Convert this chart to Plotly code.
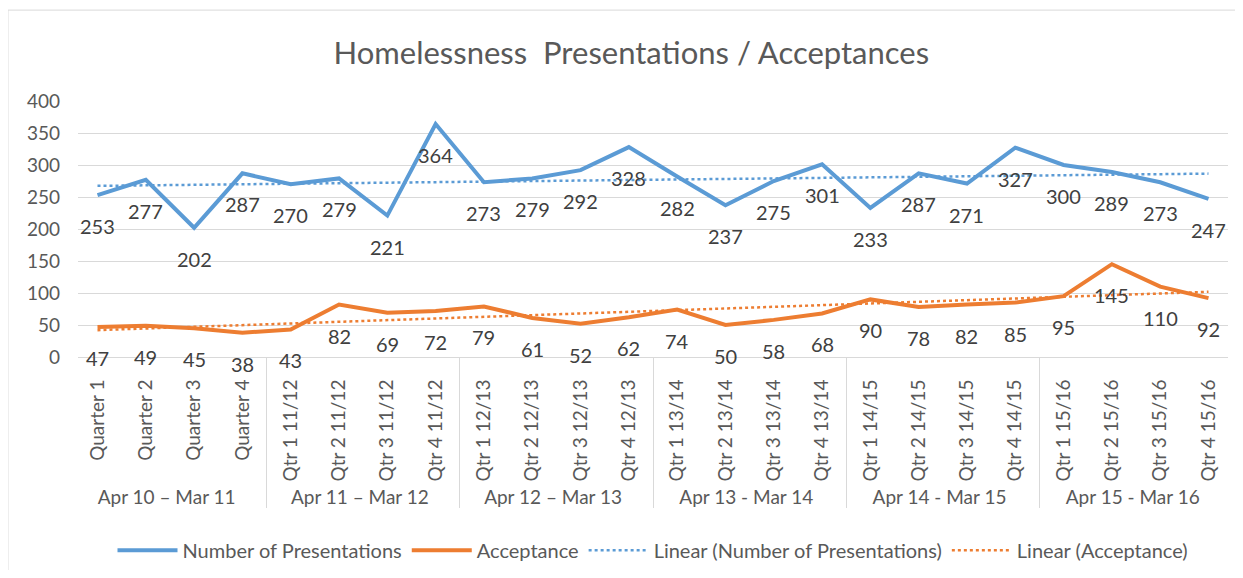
import numpy as np
import plotly.graph_objects as go

# financial year groups and quarter labels
groups = ["Apr 10 – Mar 11", "Apr 11 – Mar 12", "Apr 12 – Mar 13",
          "Apr 13 - Mar 14", "Apr 14 - Mar 15", "Apr 15 - Mar 16"]
quarters = ["Quarter 1", "Quarter 2", "Quarter 3", "Quarter 4",
            "Qtr 1 11/12", "Qtr 2 11/12", "Qtr 3 11/12", "Qtr 4 11/12",
            "Qtr 1 12/13", "Qtr 2 12/13", "Qtr 3 12/13", "Qtr 4 12/13",
            "Qtr 1 13/14", "Qtr 2 13/14", "Qtr 3 13/14", "Qtr 4 13/14",
            "Qtr 1 14/15", "Qtr 2 14/15", "Qtr 3 14/15", "Qtr 4 14/15",
            "Qtr 1 15/16", "Qtr 2 15/16", "Qtr 3 15/16", "Qtr 4 15/16"]

presentations = [253, 277, 202, 287, 270, 279, 221, 364, 273, 279, 292, 328,
                 282, 237, 275, 301, 233, 287, 271, 327, 300, 289, 273, 247]
acceptance = [47, 49, 45, 38, 43, 82, 69, 72, 79, 61, 52, 62,
              74, 50, 58, 68, 90, 78, 82, 85, 95, 145, 110, 92]

outer = [g for g in groups for _ in range(4)]
x = [outer, quarters]

BLUE = "#5b9bd5"
ORANGE = "#ed7d31"
GREY = "#595959"
FONT = "Lato, Liberation Sans, sans-serif"

# linear trend lines (like Excel "Linear" trendline)
idx = np.arange(1, len(quarters) + 1)
trend_pres = np.polyval(np.polyfit(idx, presentations, 1), idx)
trend_acc = np.polyval(np.polyfit(idx, acceptance, 1), idx)

fig = go.Figure()
fig.add_trace(go.Scatter(x=x, y=presentations, mode="lines", name="Number of Presentations",
                         line=dict(color=BLUE, width=4)))
fig.add_trace(go.Scatter(x=x, y=acceptance, mode="lines", name="Acceptance",
                         line=dict(color=ORANGE, width=4)))
fig.add_trace(go.Scatter(x=x, y=trend_pres, mode="lines", name="Linear (Number of Presentations)",
                         line=dict(color=BLUE, width=2.5, dash="dot")))
fig.add_trace(go.Scatter(x=x, y=trend_acc, mode="lines", name="Linear (Acceptance)",
                         line=dict(color=ORANGE, width=2.5, dash="dot")))

# data labels below points
for series in (presentations, acceptance):
    for g, q, v in zip(outer, quarters, series):
        fig.add_annotation(x=[g, q], y=v, text=str(v), showarrow=False,
                           yshift=-31, font=dict(size=20, color="#404040", family=FONT))

# chart border (page has 8px body margin, so figure origin is at page 8,8)
fig.add_shape(type="rect", xref="paper", yref="paper",
              x0=-0.0609, x1=1.007, y0=-0.95, y1=1.355,
              line=dict(color="#d9d9d9", width=1))

fig.update_layout(
    width=1227, height=562,
    margin=dict(l=70, r=7, t=93, b=213, autoexpand=False),
    paper_bgcolor="white", plot_bgcolor="white",
    font=dict(family=FONT, color=GREY),
    title=dict(text="Homelessness  Presentations / Acceptances", x=0.508, xanchor="center",
               y=0.92, yanchor="middle", font=dict(size=31, color=GREY, family=FONT)),
    showlegend=True,
    legend=dict(orientation="h", x=0.5, xanchor="center", y=-0.755, yanchor="middle",
                font=dict(size=20, color=GREY, family=FONT), itemwidth=60,
                bgcolor="rgba(0,0,0,0)"),
)
fig.update_xaxes(type="multicategory", tickangle=-90, tickfont=dict(size=19, color=GREY, family=FONT),
                 ticklabelstandoff=14,
                 showgrid=False, showline=True, linecolor="#d9d9d9",
                 showdividers=True, dividercolor="#d9d9d9", dividerwidth=1,
                 ticks="", automargin=False)
fig.update_yaxes(range=[0, 400], dtick=50, tickfont=dict(size=19, color=GREY, family=FONT),
                 ticklabelstandoff=17,
                 gridcolor="#d9d9d9", gridwidth=1, zeroline=False, showline=False,
                 ticks="", automargin=False)

fig.write_html("out.html")
